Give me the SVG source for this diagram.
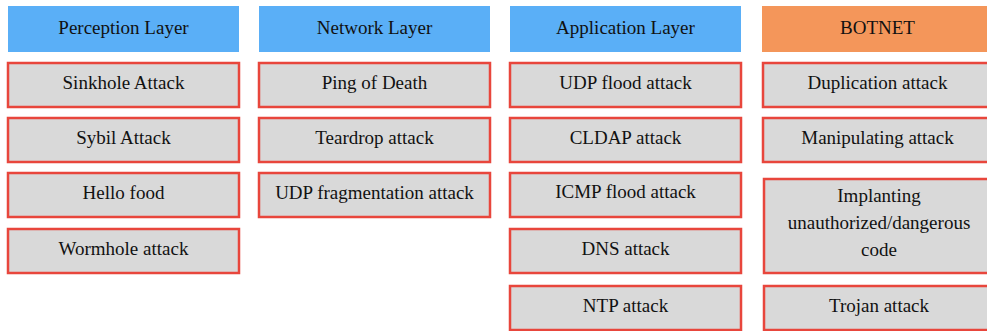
<svg xmlns="http://www.w3.org/2000/svg" width="987" height="331" viewBox="0 0 987 331">
<style>
.hd{fill:#5aaff7}
.bn{fill:#f4965a}
.bx{fill:#d9d9d9;stroke:#e8463c;stroke-width:2.5}
text{font-family:"Liberation Serif",Tinos,"Times New Roman","DejaVu Serif",serif;font-size:19px;fill:#111111;text-anchor:middle}
</style>
<rect width="987" height="331" fill="#ffffff"/>
<g id="col1">
<g id="h1"><rect class="hd" x="8" y="6" width="231" height="46"/><text x="123.5" y="34">Perception Layer</text></g>
<g id="n1a"><rect class="bx" x="8" y="63" width="231" height="44"/><text x="123.5" y="89">Sinkhole Attack</text></g>
<g id="n1b"><rect class="bx" x="8" y="118" width="231" height="44"/><text x="123.5" y="144">Sybil Attack</text></g>
<g id="n1c"><rect class="bx" x="8" y="173" width="231" height="44"/><text x="123.5" y="199">Hello food</text></g>
<g id="n1d"><rect class="bx" x="8" y="229" width="231" height="44"/><text x="123.5" y="255">Wormhole attack</text></g>
</g>
<g id="col2">
<g id="h2"><rect class="hd" x="259" y="6" width="231" height="46"/><text x="374.5" y="34">Network Layer</text></g>
<g id="n2a"><rect class="bx" x="259" y="63" width="231" height="44"/><text x="374.5" y="89">Ping of Death</text></g>
<g id="n2b"><rect class="bx" x="259" y="118" width="231" height="44"/><text x="374.5" y="144">Teardrop attack</text></g>
<g id="n2c"><rect class="bx" x="259" y="173" width="231" height="44"/><text x="374.5" y="199">UDP fragmentation attack</text></g>
</g>
<g id="col3">
<g id="h3"><rect class="hd" x="510" y="6" width="231" height="46"/><text x="625.5" y="34">Application Layer</text></g>
<g id="n3a"><rect class="bx" x="510" y="63" width="231" height="44"/><text x="625.5" y="89">UDP flood attack</text></g>
<g id="n3b"><rect class="bx" x="510" y="118" width="231" height="44"/><text x="625.5" y="144">CLDAP attack</text></g>
<g id="n3c"><rect class="bx" x="510" y="173" width="231" height="44"/><text x="625.5" y="198">ICMP flood attack</text></g>
<g id="n3d"><rect class="bx" x="510" y="229" width="231" height="44"/><text x="625.5" y="255">DNS attack</text></g>
<g id="n3e"><rect class="bx" x="510" y="286" width="231" height="44"/><text x="625.5" y="312">NTP attack</text></g>
</g>
<g id="col4">
<g id="h4"><rect class="bn" x="762" y="6" width="231" height="46"/><text x="877.5" y="34">BOTNET</text></g>
<g id="n4a"><rect class="bx" x="763" y="63" width="231" height="44"/><text x="877.5" y="89">Duplication attack</text></g>
<g id="n4b"><rect class="bx" x="763" y="118" width="231" height="44"/><text x="877.5" y="144">Manipulating attack</text></g>
<g id="n4c"><rect class="bx" x="764" y="179" width="231" height="94"/><text x="879" y="202">Implanting</text><text x="879" y="229">unauthorized/dangerous</text><text x="879" y="256">code</text></g>
<g id="n4d"><rect class="bx" x="764" y="286" width="231" height="44"/><text x="879" y="312">Trojan attack</text></g>
</g>
<g id="connectors"/>
</svg>
